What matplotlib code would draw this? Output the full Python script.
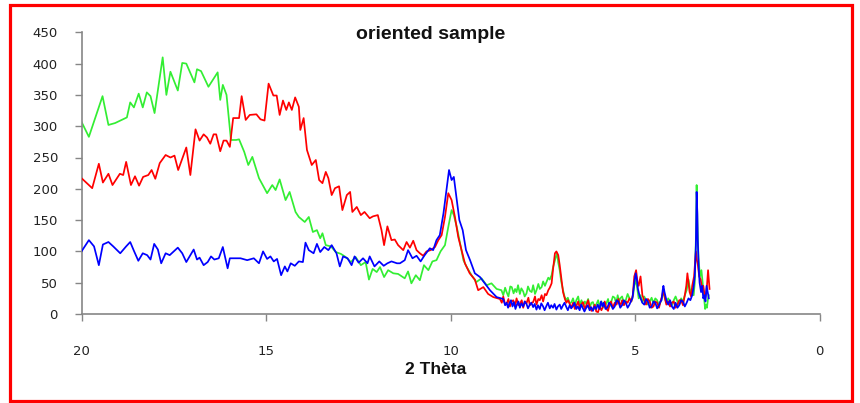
import matplotlib
matplotlib.use("Agg")
import matplotlib.pyplot as plt
from matplotlib.patches import Rectangle

# ---- data (2 theta, intensity) ----
green_x = [20, 19.8, 19.43, 19.27, 19.09, 18.77, 18.68, 18.58, 18.45, 18.34, 18.23, 18.13, 18.02, 17.80, 17.70,
           17.59, 17.39, 17.27, 17.16, 16.94, 16.87, 16.76, 16.56, 16.31, 16.24, 16.17, 16.07, 15.95, 15.81, 15.73,
           15.59, 15.48, 15.37, 15.19, 14.97, 14.83, 14.74, 14.63, 14.47, 14.36, 14.20, 14.11, 13.95, 13.84, 13.73,
           13.62, 13.53, 13.47, 13.38, 13.24, 13.11, 12.97, 12.84, 12.70, 12.57, 12.43, 12.30, 12.21, 12.11, 12.00,
           11.91, 11.80, 11.69, 11.55, 11.42, 11.24, 11.15, 11.06, 10.94, 10.83, 10.72, 10.60, 10.49, 10.38, 10.27,
           10.15, 10.06, 9.97, 9.91, 9.83, 9.74, 9.65, 9.56, 9.43, 9.30, 9.16, 9.02, 8.89, 8.75, 8.62,
           8.57, 8.52, 8.48, 8.43, 8.38, 8.34, 8.29, 8.25, 8.21, 8.17, 8.12, 8.08, 8.03, 7.99, 7.94,
           7.90, 7.85, 7.80, 7.76, 7.71, 7.67, 7.62, 7.58, 7.53, 7.49, 7.44, 7.40, 7.35, 7.31, 7.26,
           7.22, 7.17, 7.14, 7.11, 7.08, 7.04, 7.00, 6.95, 6.91, 6.86, 6.82, 6.77, 6.72, 6.68, 6.63,
           6.59, 6.54, 6.50, 6.45, 6.41, 6.36, 6.32, 6.27, 6.23, 6.18, 6.14, 6.09, 6.05, 6.00, 5.96,
           5.91, 5.87, 5.82, 5.78, 5.73, 5.69, 5.65, 5.60, 5.55, 5.51, 5.47, 5.43, 5.40, 5.35, 5.30,
           5.25, 5.20, 5.15, 5.10, 5.05, 5.0, 4.95, 4.9, 4.85, 4.8, 4.75, 4.7, 4.65, 4.6, 4.55,
           4.5, 4.45, 4.4, 4.35, 4.3, 4.23, 4.19, 4.15, 4.1, 4.05, 4.0, 3.95, 3.9, 3.85, 3.8,
           3.75, 3.7, 3.65, 3.6, 3.55, 3.5, 3.45, 3.41, 3.38, 3.35, 3.33, 3.31, 3.28, 3.24, 3.2,
           3.15, 3.12, 3.1, 3.07, 3.05, 3.02, 3.0]
green_y = [307, 283, 348, 302, 305, 314, 338, 330, 352, 330, 354, 348, 321, 410, 350,
           387, 357, 401, 400, 370, 391, 388, 363, 386, 342, 366, 350, 278, 278, 279,
           259, 238, 251, 217, 193, 206, 198, 215, 182, 195, 163, 155, 147, 155, 131,
           134, 121, 129, 110, 108, 99, 96, 91, 83, 91, 78, 83, 55, 72, 67,
           75, 59, 70, 65, 64, 57, 68, 49, 62, 54, 78, 70, 84, 86, 100,
           110, 139, 166, 158, 139, 113, 86, 75, 62, 51, 57, 46, 49, 40, 38,
           30, 42, 35, 28, 44, 43, 33, 40, 35, 46, 32, 41, 36, 28, 33,
           44, 37, 35, 46, 32, 38, 48, 40, 43, 52, 45, 51, 58, 55, 62,
           75, 86, 92, 97, 82, 70, 52, 38, 28, 22, 26, 17, 19, 25, 14,
           22, 28, 15, 22, 12, 20, 16, 24, 10, 18, 19, 8, 15, 22, 13,
           20, 10, 18, 16, 24, 12, 18, 28, 26, 16, 30, 20, 25, 28, 18,
           22, 32, 25, 20, 30, 55, 45, 25, 30, 18, 28, 22, 15, 20, 26,
           17, 25, 22, 14, 20, 35, 25, 18, 25, 20, 14, 22, 28, 20, 15,
           25, 20, 30, 38, 55, 35, 40, 30, 50, 120, 206, 150, 90, 60, 70,
           40, 20, 8, 15, 10, 25, 30]

red_x = [20, 19.71, 19.53, 19.42, 19.27, 19.16, 18.96, 18.87, 18.79, 18.66, 18.55, 18.44, 18.33, 18.19, 18.10,
         18.00, 17.88, 17.72, 17.59, 17.48, 17.38, 17.25, 17.16, 17.05, 16.91, 16.80, 16.69, 16.60, 16.51, 16.42,
         16.35, 16.24, 16.15, 16.07, 15.98, 15.89, 15.73, 15.66, 15.55, 15.44, 15.26, 15.15, 15.04, 14.93, 14.80,
         14.71, 14.63, 14.54, 14.45, 14.38, 14.30, 14.21, 14.11, 14.07, 13.98, 13.89, 13.76, 13.65, 13.56, 13.47,
         13.38, 13.31, 13.22, 13.13, 13.02, 12.93, 12.81, 12.72, 12.66, 12.54, 12.43, 12.33, 12.19, 12.10, 11.97,
         11.87, 11.80, 11.71, 11.60, 11.51, 11.42, 11.28, 11.19, 11.10, 11.01, 10.92, 10.83, 10.74, 10.65, 10.54,
         10.42, 10.33, 10.24, 10.15, 10.06, 9.97, 9.88, 9.79, 9.70, 9.61, 9.48, 9.34, 9.25, 9.11, 8.98,
         8.84, 8.66, 8.61, 8.57, 8.52, 8.48, 8.43, 8.39, 8.34, 8.30, 8.25, 8.21, 8.16, 8.12, 8.07,
         8.03, 7.98, 7.94, 7.89, 7.85, 7.80, 7.76, 7.71, 7.67, 7.62, 7.58, 7.53, 7.49, 7.44, 7.40,
         7.35, 7.31, 7.26, 7.22, 7.17, 7.13, 7.08, 7.04, 6.99, 6.95, 6.90, 6.86, 6.81, 6.77, 6.72,
         6.68, 6.63, 6.59, 6.54, 6.50, 6.45, 6.41, 6.36, 6.32, 6.27, 6.23, 6.18, 6.14, 6.09, 6.05,
         6.00, 5.96, 5.91, 5.86, 5.82, 5.77, 5.73, 5.69, 5.65, 5.60, 5.55, 5.5, 5.45, 5.40, 5.35,
         5.30, 5.25, 5.2, 5.15, 5.1, 5.06, 5.02, 4.97, 4.93, 4.9, 4.85, 4.8, 4.75, 4.7, 4.65,
         4.6, 4.55, 4.5, 4.45, 4.4, 4.35, 4.3, 4.26, 4.23, 4.19, 4.15, 4.1, 4.05, 4.0, 3.95,
         3.9, 3.85, 3.8, 3.75, 3.7, 3.65, 3.61, 3.58, 3.55, 3.52, 3.48, 3.45, 3.4, 3.35, 3.32,
         3.3, 3.26, 3.22, 3.18, 3.15, 3.1, 3.08, 3.05, 3.02, 2.98]
red_y = [217, 201, 240, 210, 224, 206, 224, 222, 243, 206, 220, 205, 219, 222, 230,
         216, 241, 254, 250, 253, 230, 251, 266, 222, 295, 277, 287, 282, 272, 287,
         287, 260, 277, 277, 267, 313, 313, 348, 310, 318, 319, 311, 309, 368, 349,
         349, 318, 341, 326, 338, 326, 346, 331, 294, 313, 262, 238, 246, 214, 209,
         227, 217, 190, 201, 204, 166, 190, 195, 163, 171, 158, 163, 153, 156, 158,
         134, 110, 140, 118, 119, 110, 102, 115, 106, 117, 102, 97, 93, 100, 102,
         107, 118, 126, 155, 193, 182, 155, 123, 102, 81, 65, 55, 38, 43, 32,
         27, 24, 18, 28, 15, 16, 24, 12, 20, 22, 13, 25, 14, 16, 22,
         10, 20, 17, 26, 14, 18, 19, 28, 15, 24, 22, 30, 20, 32, 30,
         38, 42, 49, 72, 97, 100, 94, 78, 54, 35, 24, 18, 22, 16, 10,
         18, 8, 13, 20, 10, 16, 19, 8, 14, 22, 12, 5, 8, 15, 4,
         3, 12, 6, 13, 20, 8, 5, 15, 20, 10, 18, 15, 24, 12, 22,
         14, 20, 18, 25, 20, 30, 60, 70, 50, 45, 60, 30, 22, 15, 24,
         20, 10, 12, 20, 18, 10, 22, 30, 40, 25, 15, 20, 12, 18, 20,
         10, 15, 22, 22, 14, 30, 45, 65, 50, 35, 28, 45, 60, 100, 85,
         80, 60, 55, 40, 45, 25, 30, 45, 70, 40]

blue_x = [20, 19.8, 19.66, 19.53, 19.42, 19.27, 19.14, 18.95, 18.79, 18.68, 18.58, 18.46, 18.34, 18.22, 18.13,
          18.03, 17.93, 17.84, 17.72, 17.61, 17.50, 17.39, 17.27, 17.16, 17.07, 16.96, 16.87, 16.80, 16.69, 16.58,
          16.49, 16.40, 16.28, 16.17, 16.04, 15.98, 15.69, 15.51, 15.33, 15.19, 15.08, 14.97, 14.88, 14.79, 14.70,
          14.59, 14.49, 14.42, 14.33, 14.22, 14.11, 14.00, 13.93, 13.84, 13.71, 13.62, 13.53, 13.42, 13.31, 13.22,
          13.09, 13.00, 12.91, 12.79, 12.68, 12.60, 12.49, 12.37, 12.25, 12.19, 12.06, 11.93, 11.81, 11.71, 11.60,
          11.45, 11.37, 11.24, 11.15, 11.03, 10.92, 10.81, 10.70, 10.56, 10.47, 10.38, 10.29, 10.19, 10.10, 10.04,
          9.97, 9.91, 9.83, 9.76, 9.67, 9.58, 9.47, 9.34, 9.20, 9.07, 8.93, 8.75, 8.57, 8.52, 8.48,
          8.44, 8.41, 8.36, 8.32, 8.28, 8.24, 8.20, 8.16, 8.12, 8.08, 8.03, 7.99, 7.94, 7.90, 7.85,
          7.81, 7.76, 7.72, 7.67, 7.63, 7.58, 7.54, 7.49, 7.45, 7.40, 7.36, 7.31, 7.27, 7.22, 7.18,
          7.13, 7.09, 7.04, 7.00, 6.95, 6.91, 6.86, 6.82, 6.77, 6.73, 6.68, 6.64, 6.59, 6.55, 6.50,
          6.46, 6.41, 6.37, 6.32, 6.28, 6.23, 6.19, 6.14, 6.10, 6.05, 6.01, 5.96, 5.92, 5.88, 5.85,
          5.80, 5.75, 5.70, 5.65, 5.60, 5.55, 5.50, 5.45, 5.40, 5.35, 5.30, 5.25, 5.20, 5.15, 5.10,
          5.07, 5.02, 4.98, 4.95, 4.92, 4.88, 4.85, 4.80, 4.75, 4.70, 4.65, 4.60, 4.55, 4.50, 4.45,
          4.40, 4.35, 4.31, 4.28, 4.25, 4.23, 4.20, 4.18, 4.14, 4.1, 4.05, 4.0, 3.95, 3.9, 3.85,
          3.8, 3.75, 3.7, 3.65, 3.6, 3.55, 3.5, 3.45, 3.42, 3.38, 3.35, 3.33, 3.31, 3.3, 3.27,
          3.25, 3.21, 3.18, 3.15, 3.12, 3.09, 3.06, 3.03, 3.0]
blue_y = [100, 118, 108, 78, 111, 115, 108, 97, 108, 115, 101, 85, 97, 94, 87,
          112, 103, 81, 97, 94, 100, 106, 97, 83, 92, 103, 87, 90, 78, 83,
          92, 87, 89, 107, 73, 89, 89, 86, 89, 81, 100, 88, 92, 84, 88,
          62, 76, 68, 81, 77, 84, 83, 114, 102, 97, 112, 99, 107, 102, 110,
          97, 76, 92, 89, 78, 92, 82, 89, 81, 92, 76, 84, 77, 81, 84,
          81, 81, 86, 102, 89, 93, 84, 94, 105, 102, 118, 126, 161, 203, 230,
          214, 219, 182, 150, 134, 102, 86, 65, 59, 49, 38, 27, 24, 14, 18,
          10, 16, 22, 12, 19, 8, 15, 20, 10, 17, 12, 20, 16, 9, 15,
          18, 11, 16, 7, 14, 8, 17, 12, 6, 13, 18, 9, 14, 10, 16,
          7, 12, 15, 8, 14, 18, 11, 6, 14, 9, 13, 18, 8, 12, 6,
          15, 9, 4, 10, 14, 6, 11, 5, 12, 8, 15, 8, 20, 12, 18,
          8, 10, 18, 15, 8, 12, 22, 20, 10, 14, 22, 18, 10, 15, 22,
          25, 50, 65, 55, 40, 30, 25, 18, 15, 24, 20, 10, 12, 20, 18,
          9, 14, 20, 22, 38, 45, 35, 30, 20, 15, 22, 12, 8, 18, 10,
          14, 22, 20, 12, 18, 25, 22, 30, 40, 60, 110, 195, 160, 120, 70,
          50, 35, 45, 25, 30, 20, 45, 35, 25]

x_ticks = [20, 15, 10, 5, 0]
y_ticks = [0, 50, 100, 150, 200, 250, 300, 350, 400, 450]
title_text = "oriented sample"
xlabel_text = "2 Thèta"

# ---- figure ----
W, H = 860, 403
fig = plt.figure(figsize=(W / 100, H / 100), dpi=100)
fig.patch.set_facecolor("white")

# red outer border
fig.patches.append(Rectangle((9.5 / W, 2 / H), (852 - 9.5) / W, (398 - 2) / H,
                             transform=fig.transFigure, fill=False,
                             edgecolor="#ff0000", linewidth=2.3, zorder=10))

ax_left, ax_right = 81.5, 819.5
ax_top, ax_bottom = 32.3, 314
ax = fig.add_axes([ax_left / W, 1 - ax_bottom / H, (ax_right - ax_left) / W, (ax_bottom - ax_top) / H])

ax.plot(green_x, green_y, color="#33ee33", lw=1.25, zorder=2)
ax.plot(red_x, red_y, color="#ff0000", lw=1.25, zorder=3)
ax.plot(blue_x, blue_y, color="#0000ff", lw=1.25, zorder=4)

ax.set_xlim(20, 0)
ax.set_ylim(0, 450)
ax.set_xticks(x_ticks)
ax.set_yticks(y_ticks)

for s in ("top", "right"):
    ax.spines[s].set_visible(False)
for s in ("left", "bottom"):
    ax.spines[s].set_color("#868686")
    ax.spines[s].set_linewidth(1.2)

ax.tick_params(axis="y", direction="out", length=5, width=1, color="#868686",
               labelsize=9.5, labelcolor="#222222", pad=12)
ax.tick_params(axis="x", direction="out", length=5, width=1, color="#868686",
               labelsize=9.5, labelcolor="#222222", pad=17)

ax.set_title(title_text, fontsize=14, fontweight="bold", family="Liberation Sans",
             y=0.962, va="center", color="#111111")
ax.title.set_x((431 - ax_left) / (ax_right - ax_left))

ax.set_xlabel(xlabel_text, fontsize=12.5, fontweight="bold", family="Liberation Sans", color="#111111")
ax.xaxis.set_label_coords((436 - ax_left) / (ax_right - ax_left), (ax_bottom - 369) / (ax_bottom - ax_top))
ax.xaxis.label.set_va("center")

fig.savefig("out.png", dpi=100)
